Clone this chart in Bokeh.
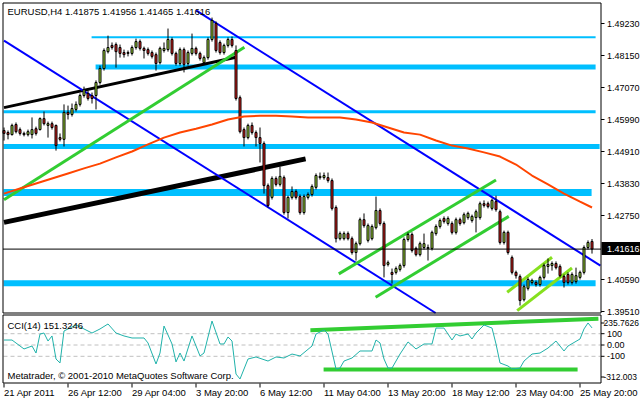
from bokeh.plotting import figure
from bokeh.models import Range1d, ColumnDataSource
from bokeh.embed import file_html
from bokeh.resources import INLINE
from bokeh.core.properties import value

header = "EURUSD,H4  1.41875 1.41956 1.41465 1.41616"
cci_title = "CCI(14) 151.3246"
copyright_text = "Metatrader, \u00a9 2001-2010 MetaQuotes Software Corp."

opens = [1.4562,1.4555,1.4548,1.4582,1.4565,1.4552,1.4548,1.4548,1.4568,1.4565,
         1.4602,1.4579,1.4585,1.4579,1.4538,1.4532,1.4623,1.4616,1.4633,1.4650,
         1.4680,1.4687,1.4680,1.4680,1.4724,1.4771,1.4828,1.4849,1.4852,1.4842,
         1.4825,1.4822,1.4822,1.4842,1.4862,1.4839,1.4835,1.4825,1.4818,1.4791,
         1.4832,1.4835,1.4869,1.4822,1.4788,1.4835,1.4788,1.4822,1.4839,1.4822,
         1.4791,1.4808,1.4869,1.4923,1.4859,1.4825,1.4849,1.4869,1.4832,1.4673,
         1.4565,1.4538,1.4579,1.4555,1.4538,1.4518,1.4376,1.4336,1.4400,1.4380,
         1.4403,1.4285,1.4336,1.4356,1.4339,1.4285,1.4336,1.4346,1.4370,1.4403,
         1.4403,1.4403,1.4393,1.4302,1.4197,1.4197,1.4214,1.4197,1.4150,1.4180,
         1.4261,1.4191,1.4197,1.4234,1.4292,1.4248,1.4110,1.4083,1.4083,1.4093,
         1.4106,1.4194,1.4211,1.4164,1.4143,1.4167,1.4164,1.4164,1.4214,1.4238,
         1.4265,1.4248,1.4248,1.4218,1.4261,1.4251,1.4268,1.4258,1.4268,1.4268,
         1.4315,1.4315,1.4299,1.4322,1.4288,1.4184,1.4218,1.4133,1.4083,1.4069,
         1.3991,1.4029,1.4049,1.4049,1.4042,1.4066,1.4103,1.4106,1.4113,1.4103,
         1.4069,1.4076,1.4049,1.4052,1.4066,1.4083,1.4167,1.41875]
highs = [1.4572,1.4562,1.4585,1.4589,1.4572,1.4558,1.4565,1.4606,1.4575,1.4606,
         1.4626,1.4592,1.4592,1.4582,1.4552,1.4650,1.4646,1.4653,1.4660,1.4687,
         1.4710,1.4697,1.4690,1.4731,1.4781,1.4839,1.4882,1.4859,1.4859,1.4852,
         1.4835,1.4832,1.4849,1.4872,1.4869,1.4845,1.4842,1.4832,1.4825,1.4845,
         1.4859,1.4906,1.4876,1.4828,1.4842,1.4842,1.4832,1.4889,1.4845,1.4828,
         1.4815,1.4876,1.4943,1.4930,1.4866,1.4855,1.4876,1.4879,1.4849,1.4680,
         1.4572,1.4585,1.4589,1.4562,1.4572,1.4525,1.4383,1.4407,1.4407,1.4440,
         1.4410,1.4342,1.4373,1.4363,1.4346,1.4346,1.4353,1.4380,1.4417,1.4420,
         1.4420,1.4420,1.4400,1.4309,1.4221,1.4221,1.4221,1.4204,1.4187,1.4268,
         1.4282,1.4248,1.4245,1.4339,1.4299,1.4255,1.4123,1.4096,1.4103,1.4113,
         1.4201,1.4218,1.4218,1.4170,1.4187,1.4214,1.4177,1.4224,1.4245,1.4265,
         1.4272,1.4272,1.4255,1.4268,1.4268,1.4285,1.4288,1.4278,1.4295,1.4322,
         1.4326,1.4322,1.4332,1.4342,1.4295,1.4224,1.4224,1.4140,1.4089,1.4076,
         1.4042,1.4066,1.4062,1.4056,1.4072,1.4113,1.4130,1.4120,1.4120,1.4110,
         1.4076,1.4083,1.4083,1.4099,1.4089,1.4174,1.4191,1.41956]
lows = [1.4528,1.4532,1.4545,1.4552,1.4545,1.4542,1.4542,1.4535,1.4545,1.4562,
        1.4579,1.4538,1.4565,1.4494,1.4525,1.4508,1.4599,1.4609,1.4626,1.4643,
        1.4673,1.4663,1.4653,1.4633,1.4717,1.4764,1.4822,1.4835,1.4774,1.4808,
        1.4808,1.4812,1.4815,1.4835,1.4832,1.4805,1.4815,1.4805,1.4764,1.4785,
        1.4825,1.4828,1.4815,1.4781,1.4781,1.4758,1.4781,1.4815,1.4815,1.4798,
        1.4785,1.4801,1.4862,1.4825,1.4818,1.4818,1.4842,1.4842,1.4663,1.4552,
        1.4508,1.4532,1.4548,1.4508,1.4454,1.4349,1.4302,1.4329,1.4373,1.4373,
        1.4278,1.4265,1.4329,1.4329,1.4278,1.4278,1.4329,1.4339,1.4363,1.4396,
        1.4396,1.4386,1.4292,1.4184,1.4191,1.4191,1.4191,1.4143,1.4123,1.4174,
        1.4234,1.4184,1.4191,1.4228,1.4241,1.4066,1.4103,1.4045,1.4076,1.4086,
        1.4099,1.4187,1.4150,1.4137,1.4137,1.4160,1.4123,1.4157,1.4207,1.4231,
        1.4248,1.4241,1.4211,1.4211,1.4241,1.4245,1.4261,1.4251,1.4218,1.4261,
        1.4302,1.4299,1.4292,1.4288,1.4177,1.4177,1.4143,1.4076,1.4062,1.3971,
        1.3985,1.4022,1.4042,1.4035,1.4035,1.4059,1.4079,1.4089,1.4093,1.4066,
        1.4032,1.4042,1.4042,1.4045,1.4059,1.4076,1.4160,1.41465]
closes = [1.4552,1.4548,1.4579,1.4558,1.4552,1.4548,1.4558,1.4565,1.4552,1.4602,
          1.4585,1.4585,1.4572,1.4511,1.4532,1.4623,1.4616,1.4636,1.4650,1.4680,
          1.4700,1.4670,1.4670,1.4724,1.4771,1.4832,1.4842,1.4842,1.4828,1.4822,
          1.4818,1.4825,1.4842,1.4862,1.4839,1.4832,1.4822,1.4812,1.4788,1.4839,
          1.4839,1.4869,1.4822,1.4788,1.4835,1.4785,1.4825,1.4839,1.4822,1.4805,
          1.4808,1.4869,1.4933,1.4832,1.4825,1.4849,1.4869,1.4849,1.4670,1.4558,
          1.4538,1.4579,1.4555,1.4538,1.4518,1.4376,1.4309,1.4400,1.4380,1.4407,
          1.4285,1.4336,1.4356,1.4336,1.4285,1.4339,1.4346,1.4373,1.4410,1.4407,
          1.4410,1.4393,1.4299,1.4197,1.4214,1.4214,1.4197,1.4150,1.4180,1.4261,
          1.4241,1.4241,1.4238,1.4292,1.4248,1.4106,1.4116,1.4076,1.4096,1.4106,
          1.4194,1.4211,1.4157,1.4143,1.4180,1.4180,1.4167,1.4218,1.4238,1.4258,
          1.4255,1.4265,1.4218,1.4261,1.4248,1.4278,1.4282,1.4272,1.4288,1.4315,
          1.4309,1.4305,1.4326,1.4295,1.4184,1.4218,1.4150,1.4083,1.4072,1.3988,
          1.4035,1.4059,1.4056,1.4042,1.4066,1.4106,1.4110,1.4113,1.4099,1.4072,
          1.4049,1.4049,1.4076,1.4072,1.4083,1.4167,1.4184,1.41616]

ma_bar = [0,4,8,12,16,20,24,28,32,36,40,44,48,52,56,60,64,68,72,76,80,84,88,92,
          96,100,104,108,112,116,120,124,128,132,136,140,144,147]
ma_val = [1.4349,1.4366,1.4383,1.4400,1.4417,1.4434,1.4450,1.4471,1.4491,1.4515,
          1.4538,1.4555,1.4568,1.4582,1.4599,1.4609,1.4612,1.4612,1.4609,1.4606,
          1.4606,1.4606,1.4599,1.4589,1.4572,1.4555,1.4548,1.4528,1.4511,1.4501,
          1.4488,1.4474,1.4447,1.4410,1.4380,1.4349,1.4322,1.4302]

last_price = 1.41616
price_ticks = [1.49230,1.48150,1.47070,1.45990,1.44910,1.43830,1.42750,1.40590,1.39510]

level_price = [1.4877, 1.4776, 1.4625, 1.4508, 1.4353, 1.4046]
level_from = [21.9, 22.9, -0.1, -0.1, -0.1, -0.1]
level_to = [147.9, 147.9, 147.9, 148.9, 146.9, 147.9]

blue_x0 = [0, 48];          blue_y0 = [1.4865, 1.4967]
blue_x1 = [107.9, 149.1];   blue_y1 = [1.3946, 1.4106]
black_x0 = [0, 0];          black_y0 = [1.4639, 1.4252]
black_x1 = [58, 75.4];      black_y1 = [1.4809, 1.4466]
green_x0 = [0, 83.7, 92.9];      green_y0 = [1.4328, 1.4078, 1.3999]
green_x1 = [60.1, 123.0, 126.2]; green_y1 = [1.4843, 1.4395, 1.4272]
lgreen_x0 = [125.8, 128.3];      lgreen_y0 = [1.4016, 1.3954]
lgreen_x1 = [137.0, 142.0];      lgreen_y1 = [1.4134, 1.4098]

cci_bar = [0,2,5,7,8,9,10,11,12,13,14,15,18,20,22,24,26,28,30,32,35,36,38,39,40,42,43,44,45,47,
           49,50,52,54,55,56,57,58,59,61,63,66,68,70,72,74,77,78,80,81,83,84,85,87,89,92,93,94,95,96,
           97,99,101,103,105,107,108,109,110,112,113,114,116,117,118,120,122,123,124,126,127,129,130,
           132,134,136,138,139,140,141,144,145,146,147]
cci_val = [44,44,-35,-9,-71,97,106,35,80,-124,-159,124,177,142,106,142,186,106,80,62,62,18,-168,-71,
           168,9,-150,-71,-142,80,-97,-71,212,9,9,71,35,-257,-301,-124,-106,-142,-106,-115,-80,-97,-9,
           97,133,97,-212,-204,-142,-115,-53,-53,44,18,-124,-204,-204,-80,27,-35,9,9,150,150,150,44,97,
           80,97,53,106,177,150,9,-159,-186,-212,-204,-142,-80,-71,-27,35,-9,-53,-9,53,142,195,151.3246]
cci_levels = [100, 0, -100]
cci_ticks = [235.7626, 100, 0, -100, -312.003]
cci_tick_labels = ["235.7626", "100", "0.00", "-100", "-312.003"]
cci_tl_x0 = [76.6, 79.9]; cci_tl_y0 = [131, -217]
cci_tl_x1 = [148.6, 143.4]; cci_tl_y1 = [232, -217]

time_ticks = [0, 16, 32, 48, 64, 80, 96, 112, 128, 144]
time_labels = ["21 Apr 2011", "26 Apr 12:00", "29 Apr 04:00", "3 May 20:00", "6 May 12:00",
               "11 May 04:00", "13 May 20:00", "18 May 12:00", "23 May 04:00", "25 May 20:00"]

# ---------------- styling / layout ----------------
FONT = value("Liberation Sans")
FS = value("9.5px")
FS_AX = value("9px")
FS_AX_LONG = value("8.5px")
BULL = "#A6E23A"
BEAR = "#E0201C"
CYAN = "#00BFFF"
level_width = [2, 5, 3, 5, 7, 6]

W, H = 640, 400
PPX = 0.0003375                  # price per pixel
X0 = -0.875                      # 4 px per bar, bar 0 centred at px 3.5
PT = 1.500065                    # price at top pixel row
CPX = 0.113                      # CCI pixels per unit, zero at py 344.5


def bar_at(px):
    return X0 + px / 4


def price_at(py):
    return PT - py * PPX


def cci_at(py):
    return (344.5 - py) / CPX


p = figure(width=W, height=H, x_range=Range1d(X0, bar_at(W)), y_range=Range1d(price_at(H), PT),
           x_axis_location=None, y_axis_location=None, min_border=0, outline_line_color=None,
           output_backend="svg", toolbar_location=None,
           background_fill_color="white", border_fill_color="white")
p.extra_y_ranges = {"cci": Range1d(cci_at(H), cci_at(0))}
p.grid.visible = False

# ---- main price panel ----
for i in range(len(level_price)):
    p.segment(x0=[level_from[i]], y0=[level_price[i]], x1=[level_to[i]], y1=[level_price[i]],
              line_color=CYAN, line_width=level_width[i], line_cap="butt")

p.segment(x0=black_x0[:1], y0=black_y0[:1], x1=black_x1[:1], y1=black_y1[:1], line_color="black", line_width=3)
p.segment(x0=black_x0[1:], y0=black_y0[1:], x1=black_x1[1:], y1=black_y1[1:], line_color="black", line_width=5)
p.segment(x0=blue_x0, y0=blue_y0, x1=blue_x1, y1=blue_y1, line_color="#0000FF", line_width=2)
p.segment(x0=green_x0, y0=green_y0, x1=green_x1, y1=green_y1, line_color="#32CD32", line_width=3)
p.segment(x0=lgreen_x0, y0=lgreen_y0, x1=lgreen_x1, y1=lgreen_y1, line_color="#86E01E", line_width=3)

bars = list(range(len(closes)))
src = ColumnDataSource(dict(
    x=bars, high=highs, low=lows,
    top=[max(o, c) for o, c in zip(opens, closes)],
    bottom=[min(o, c) for o, c in zip(opens, closes)],
    color=[BULL if c >= o else BEAR for o, c in zip(opens, closes)],
))
p.segment(x0="x", y0="low", x1="x", y1="high", source=src, line_color="black", line_width=1)
p.vbar(x="x", top="top", bottom="bottom", width=0.5, source=src, fill_color="color",
       line_color="black", line_width=1)

p.line(ma_bar, ma_val, line_color="#FF4500", line_width=2)
p.segment(x0=[bar_at(2.5)], y0=[last_price], x1=[bar_at(600.5)], y1=[last_price],
          line_color="black", line_width=1)

# frame of price panel
p.quad(left=[bar_at(2.5)], right=[bar_at(600.5)], top=[price_at(2.5)], bottom=[price_at(312.5)],
       fill_color=None, line_color="black", line_width=1)

p.text(x=[bar_at(7)], y=[price_at(11)], text=[header], text_font=FONT, text_font_size=FS,
       text_color="black", text_baseline="middle", text_align="left")

# price scale
p.segment(x0=[bar_at(600.5)] * len(price_ticks), y0=price_ticks,
          x1=[bar_at(604)] * len(price_ticks), y1=price_ticks, line_color="black", line_width=1)
p.text(x=[bar_at(606.5)] * len(price_ticks), y=price_ticks, text=["%.5f" % t for t in price_ticks],
       text_font=FONT, text_font_size=FS_AX, text_color="black", text_baseline="middle", text_align="left")
p.quad(left=[bar_at(601)], right=[bar_at(640)], top=[price_at(241.5)], bottom=[price_at(254.5)],
       fill_color="black", line_color=None)
p.text(x=[bar_at(606.5)], y=[last_price], text=["%.5f" % last_price], text_font=FONT,
       text_font_size=FS_AX, text_color="white", text_baseline="middle", text_align="left")

# ---- CCI panel ----
for lv in cci_levels:
    p.segment(x0=[bar_at(3)], y0=[lv], x1=[bar_at(600)], y1=[lv], y_range_name="cci",
              line_color="#C0C0C0", line_width=1, line_dash="4 3")
p.segment(x0=cci_tl_x0, y0=cci_tl_y0, x1=cci_tl_x1, y1=cci_tl_y1, y_range_name="cci",
          line_color="#32CD32", line_width=4)
p.line(cci_bar, cci_val, y_range_name="cci", line_color="#20B2AA", line_width=1)
p.quad(left=[bar_at(2.5)], right=[bar_at(600.5)], top=[cci_at(314.5)], bottom=[cci_at(382.5)],
       y_range_name="cci", fill_color=None, line_color="black", line_width=1)
p.text(x=[bar_at(7), bar_at(7)], y=[cci_at(325), cci_at(374.5)], text=[cci_title, copyright_text],
       y_range_name="cci", text_font=FONT, text_font_size=FS, text_color="black",
       text_baseline="middle", text_align="left")

# CCI scale: extreme labels are kept inside the panel, as the terminal does
lab_y = [min(max(v, cci_at(376.5)), cci_at(322.5)) for v in cci_ticks]
p.segment(x0=[bar_at(600.5)] * len(lab_y), y0=lab_y, x1=[bar_at(604)] * len(lab_y), y1=lab_y,
          y_range_name="cci", line_color="black", line_width=1)
short = [i for i, t in enumerate(cci_tick_labels) if len(t) <= 5]
long_ = [i for i, t in enumerate(cci_tick_labels) if len(t) > 5]
p.text(x=[bar_at(606.5)] * len(short), y=[lab_y[i] for i in short],
       text=[cci_tick_labels[i] for i in short], y_range_name="cci",
       text_font=FONT, text_font_size=FS_AX, text_color="black", text_baseline="middle", text_align="left")
p.text(x=[bar_at(603)] * len(long_), y=[lab_y[i] for i in long_],
       text=[cci_tick_labels[i] for i in long_], y_range_name="cci",
       text_font=FONT, text_font_size=FS_AX_LONG, text_color="black", text_baseline="middle", text_align="left")

# ---- time scale ----
p.segment(x0=time_ticks, y0=[cci_at(383)] * len(time_ticks), x1=time_ticks,
          y1=[cci_at(387)] * len(time_ticks), y_range_name="cci", line_color="black", line_width=1)
p.text(x=time_ticks, y=[cci_at(391.5)] * len(time_ticks), text=time_labels, y_range_name="cci",
       text_font=FONT, text_font_size=FS, text_color="black", text_baseline="middle", text_align="left")

open("out.html", "w").write(file_html(p, INLINE))
